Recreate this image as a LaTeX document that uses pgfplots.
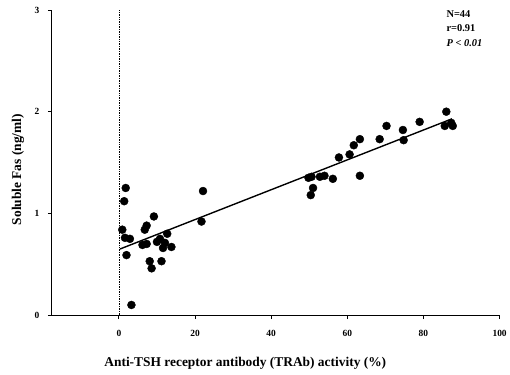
\documentclass[border=0pt]{standalone}
\usepackage{pgfplots}
\pgfplotsset{compat=1.18}
\usepackage{fontspec}
\setmainfont{Liberation Serif}
\begin{document}
\begin{tikzpicture}
\begin{axis}[
  scale only axis,
  width=449bp, height=306bp,
  xmin=-17.6, xmax=100, ymin=0, ymax=3,
  axis lines=left,
  axis line style={line width=1.1pt, -},
  xtick={0,20,40,60,80,100},
  ytick={0,1,2,3},
  tick align=outside,
  major tick length=4bp,
  tick style={line width=0.9pt, black},
  /pgf/number format/assume math mode=true,
  ticklabel style={font=\bfseries\fontsize{9.5}{11}\selectfont},
  xticklabel style={yshift=-8bp},
  yticklabel style={xshift=-5bp},
  xlabel={\bfseries Anti-TSH receptor antibody (TRAb) activity (\%)},
  ylabel={\bfseries Soluble Fas (ng/ml)},
  label style={font=\bfseries\fontsize{13.5}{15}\selectfont},
  xlabel style={at={(axis description cs:0.432,-0.157)}, anchor=center},
  ylabel style={at={(axis description cs:-0.0757,0.477)}, anchor=center, rotate=0},
  clip=false,
]
\draw[densely dotted, line width=0.7pt] (axis cs:0,0) -- (axis cs:0,3);
\addplot[only marks, mark=*, mark size=4bp, black] coordinates {
(1.8,1.25) (1.4,1.12) (0.9,0.84) (2.9,0.75) (1.6,0.76) (2.0,0.59) (3.3,0.10)
(6.8,0.84) (7.3,0.88) (9.2,0.97) (6.2,0.69) (7.3,0.70) (8.1,0.53) (8.6,0.46)
(11.2,0.53) (10.8,0.75) (12.1,0.71) (11.6,0.66) (13.8,0.67) (12.7,0.80) (10.0,0.72)
(22.1,1.22) (21.7,0.92)
(50.4,1.18) (51.0,1.25) (50.6,1.36) (52.8,1.36) (54.0,1.37) (49.8,1.35) (56.2,1.34)
(63.3,1.37) (57.8,1.55) (60.6,1.58) (61.7,1.67) (63.3,1.73) (68.5,1.73) (70.3,1.86)
(74.6,1.82) (74.8,1.72) (79.0,1.90) (86.0,2.00) (85.6,1.86) (87.3,1.89) (87.7,1.86)
};
\addplot[black, line width=1.4pt] coordinates {(0.3,0.65) (87.5,1.93)};
\node[anchor=north west, font=\bfseries\fontsize{10.5}{14.5}\selectfont, align=left, inner sep=0pt]
  at (axis cs:86,2.995) {N=44\\r=0.91\\\textit{P} \textless{} \textit{0.01}};
\end{axis}
\path (-52bp,-60bp) rectangle (458bp,316bp);
\end{tikzpicture}
\end{document}
